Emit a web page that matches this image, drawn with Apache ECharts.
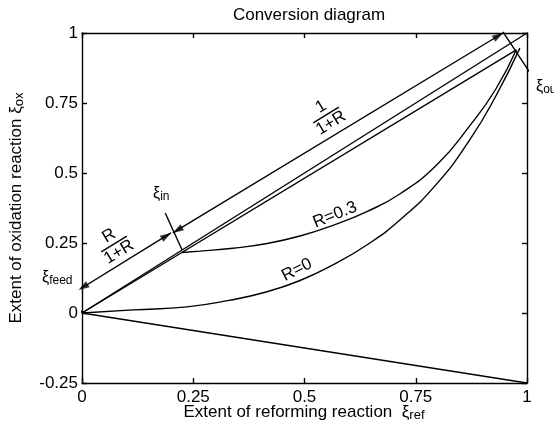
<!DOCTYPE html>
<html>
<head>
<meta charset="utf-8">
<script src="https://cdn.jsdelivr.net/npm/echarts@6/dist/echarts.min.js"></script>
<style>
html, body { margin: 0; padding: 0; background: #fff; }
#chart { width: 554px; height: 435px; }
</style>
</head>
<body>
<div id="chart"></div>
<script>
// axis ticks
var xTicks = [0, 0.25, 0.5, 0.75, 1];
var xTickLabels = ['0', '0.25', '0.5', '0.75', '1'];
var yTicks = [-0.25, 0, 0.25, 0.5, 0.75, 1];
var yTickLabels = ['-0.25', '0', '0.25', '0.5', '0.75', '1'];

// key points
var xiFeed = [0, 0];
var xiIn = [0.224, 0.216];
var xiOut = [0.976, 0.94];

// straight lines
var diagonal = [[0, 0], [1, 1]];
var mixLine = [xiFeed, xiOut];
var lowerLine = [[0, 0], [1, -0.25]];

// curves
var r0X = [0, 0.115, 0.236, 0.33, 0.416, 0.49, 0.564, 0.64, 0.715, 0.798, 0.872, 0.93, 0.984];
var r0Y = [0, 0.011, 0.022, 0.045, 0.076, 0.116, 0.172, 0.243, 0.333, 0.463, 0.62, 0.775, 0.946];
var r03X = [0.224, 0.265, 0.339, 0.416, 0.49, 0.564, 0.64, 0.715, 0.798, 0.872, 0.93, 0.976];
var r03Y = [0.216, 0.221, 0.231, 0.248, 0.275, 0.313, 0.362, 0.426, 0.53, 0.67, 0.8, 0.94];

// dimension lines and extension marks
var dimLow = [[-0.008, 0.082], [0.2, 0.286]];
var dimHigh = [[0.204, 0.286], [0.946, 1.0]];
var extFeed = [[-0.0225, 0.068], [0, 0]];
var extIn = [[0.187, 0.357], [0.225, 0.225]];
var extOut = [[0.946, 1.004], [1.013, 0.843]];

// pixels per unit of the plot box, used only to turn arrowheads
var PX = 445, PY = 280;
var HEAD = [7, 11];

function zip(xs, ys) {
	return xs.map(function (x, i) { return [x, ys[i]]; });
}

var FONT = 'Liberation Sans, Arial, sans-serif';
var lw = 1.4;

function plain(name, data, smooth) {
	return {
		name: name,
		type: 'line',
		data: data,
		symbol: 'none',
		smooth: smooth || false,
		clip: false,
		lineStyle: { color: '#000', width: lw },
		silent: true
	};
}

// arrowhead whose tip sits on the point, pointing along ang (degrees)
function head(p, ang) {
	var r = ang * Math.PI / 180;
	var h = HEAD[1] / 2;
	return {
		value: p,
		symbolRotate: ang - 90,
		symbolOffset: [-h * Math.cos(r), h * Math.sin(r)]
	};
}

function heads(pts) {
	var a = pts[0], b = pts[1];
	var ang = Math.atan2((b[1] - a[1]) * PY, (b[0] - a[0]) * PX) * 180 / Math.PI;
	return [head(b, ang), head(a, ang + 180)];
}

var chart = echarts.init(document.getElementById('chart'));

var axisCommon = {
	type: 'value',
	min: 0,
	max: 1,
	interval: 0.25,
	splitLine: { show: false },
	axisLine: { show: true, onZero: false, lineStyle: { color: '#000', width: lw } },
	axisTick: { show: true, inside: true, length: 5, lineStyle: { color: '#000', width: lw } }
};

function fraction(cx, cy, num, den, w, ang) {
	return {
		type: 'group', x: cx, y: cy, rotation: ang,
		children: [
			{ type: 'text', x: 0, y: -1, style: { text: num, font: '17px ' + FONT, fill: '#000', align: 'center', verticalAlign: 'bottom' } },
			{ type: 'line', shape: { x1: -w / 2, y1: 0, x2: w / 2, y2: 0 }, style: { stroke: '#000', lineWidth: lw } },
			{ type: 'text', x: 0, y: 1, style: { text: den, font: '17px ' + FONT, fill: '#000', align: 'center', verticalAlign: 'top' } }
		]
	};
}

function subLabel(x, y, sub) {
	return {
		type: 'text', x: x, y: y,
		style: {
			text: '{a|ξ}{b|' + sub + '}',
			align: 'left', verticalAlign: 'middle',
			rich: {
				a: { fontSize: 16, fontFamily: FONT, fill: '#000', padding: [0, 0, 7, 0] },
				b: { fontSize: 12, fontFamily: FONT, fill: '#000' }
			}
		}
	};
}

chart.setOption({
	animation: false,
	backgroundColor: '#fff',
	title: {
		text: 'Conversion diagram',
		left: 304, top: 2,
		textAlign: 'center',
		textStyle: { fontFamily: FONT, fontSize: 17, fontWeight: 'normal', color: '#000' }
	},
	grid: { left: 82, top: 33, right: 27, bottom: 52, containLabel: false },
	xAxis: [
		Object.assign({}, axisCommon, {
			position: 'bottom',
			axisLabel: {
				color: '#000', fontSize: 17, fontFamily: FONT, margin: 6,
				formatter: function (v) { return xTickLabels[xTicks.indexOf(v)]; }
			}
		}),
		Object.assign({}, axisCommon, { position: 'top', axisLabel: { show: false } })
	],
	yAxis: [
		Object.assign({}, axisCommon, {
			min: -0.25, max: 1,
			position: 'left',
			axisLabel: {
				color: '#000', fontSize: 17, fontFamily: FONT, margin: 4,
				formatter: function (v) { return yTickLabels[yTicks.indexOf(v)]; }
			}
		}),
		Object.assign({}, axisCommon, { min: -0.25, max: 1, position: 'right', axisLabel: { show: false } })
	],
	series: [
		plain('diagonal', diagonal),
		plain('mix', mixLine),
		plain('lower', lowerLine),
		plain('R=0', zip(r0X, r0Y), 0.5),
		plain('R=0.3', zip(r03X, r03Y), 0.5),
		plain('extFeed', extFeed),
		plain('extIn', extIn),
		plain('extOut', extOut),
		plain('dimLow', dimLow),
		plain('dimHigh', dimHigh),
		{
			name: 'arrows',
			type: 'scatter',
			data: heads(dimLow).concat(heads(dimHigh)),
			symbol: 'triangle',
			symbolSize: HEAD,
			clip: false,
			silent: true,
			itemStyle: { color: '#000' }
		}
	],
	graphic: [
		fraction(114, 244, 'R', '1+R', 30, 0.55),
		fraction(326, 115, '1', '1+R', 30, 0.55),
		{ type: 'text', x: 335, y: 215, rotation: 0.38, style: { text: 'R=0.3', font: '17px ' + FONT, fill: '#000', align: 'center', verticalAlign: 'middle' } },
		{ type: 'text', x: 297, y: 270, rotation: 0.47, style: { text: 'R=0', font: '17px ' + FONT, fill: '#000', align: 'center', verticalAlign: 'middle' } },
		subLabel(42, 281, 'feed'),
		subLabel(153, 197, 'in'),
		subLabel(536, 90, 'out'),
		{
			type: 'text', x: 304, y: 415,
			style: {
				text: '{a|Extent of reforming reaction  ξ}{b|ref}',
				align: 'center', verticalAlign: 'middle',
				rich: {
					a: { fontSize: 17, fontFamily: FONT, fill: '#000', padding: [0, 0, 6, 0] },
					b: { fontSize: 13, fontFamily: FONT, fill: '#000' }
				}
			}
		},
		{
			type: 'text', x: 19, y: 208, rotation: Math.PI / 2,
			style: {
				text: '{a|Extent of oxidation reaction ξ}{b|ox}',
				align: 'center', verticalAlign: 'middle',
				rich: {
					a: { fontSize: 17, fontFamily: FONT, fill: '#000', padding: [0, 0, 6, 0] },
					b: { fontSize: 13, fontFamily: FONT, fill: '#000' }
				}
			}
		}
	]
});
</script>
</body>
</html>
